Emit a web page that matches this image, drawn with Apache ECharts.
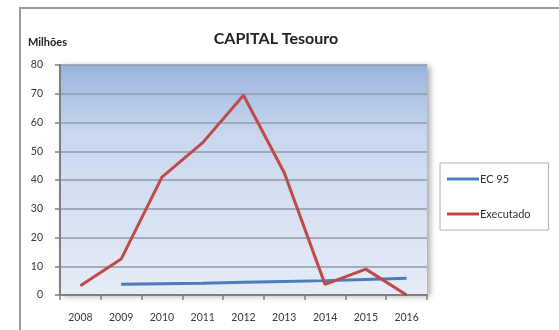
<!DOCTYPE html>
<html>
<head>
<meta charset="utf-8">
<script src="https://cdn.jsdelivr.net/npm/echarts@6/dist/echarts.min.js"></script>
<style>
  html, body { margin: 0; padding: 0; background: #fff; }
  #chart { width: 559px; height: 330px; }
</style>
</head>
<body>
<div id="chart"></div>
<script>
// dados (milhoes)
const anos = ['2008', '2009', '2010', '2011', '2012', '2013', '2014', '2015', '2016'];
const ec95 = [null, 3.7, 3.9, 4.1, 4.4, 4.7, 5.0, 5.4, 5.8];
const executado = [3.2, 12.5, 41, 53, 69.5, 42.5, 3.7, 9, 0];
const yTicks = [0, 80, 10];

const chart = echarts.init(document.getElementById('chart'));

const options = {
  animation: false,
  textStyle: { fontFamily: 'Lato' },
  title: {
    text: 'CAPITAL Tesouro',
    left: 271,
    top: 26,
    textAlign: 'center',
    textStyle: { fontSize: 16, fontWeight: 'bold', color: '#222', fontFamily: 'Lato' }
  },
  graphic: [
    {
      type: 'rect',
      shape: { x: 20, y: 8, width: 600, height: 400 },
      style: { fill: 'none', stroke: '#9a9a9a', lineWidth: 2 },
      silent: true
    },
    {
      type: 'text',
      left: 28,
      top: 37,
      style: { text: 'Milhões', font: 'bold 11px Lato', fill: '#222' }
    }
  ],
  legend: {
    orient: 'vertical',
    left: 440,
    top: 163,
    padding: [9, 18, 9, 7],
    borderColor: '#b0b0b0',
    borderWidth: 1,
    backgroundColor: '#fff',
    icon: 'rect',
    itemWidth: 32,
    itemHeight: 3,
    itemGap: 21,
    textStyle: { fontSize: 11, color: '#333', lineHeight: 14, padding: [0, 0, 0, -4] },
    data: ['EC 95', 'Executado']
  },
  grid: {
    show: true,
    left: 60,
    right: 132,
    top: 65,
    bottom: 35,
    borderWidth: 0,
    backgroundColor: new echarts.graphic.LinearGradient(0, 0, 0, 1, [
      { offset: 0, color: '#9ab4de' },
      { offset: 0.3, color: '#c9d7ee' },
      { offset: 1, color: '#e6ecf7' }
    ]),
    shadowBlur: 6,
    shadowOffsetX: 3,
    shadowOffsetY: 1,
    shadowColor: 'rgba(0,0,0,0.35)'
  },
  xAxis: {
    type: 'category',
    data: anos,
    boundaryGap: true,
    axisLine: { lineStyle: { color: '#7f7f7f', width: 2 } },
    axisTick: { show: true, length: 5, lineStyle: { color: '#7f7f7f', width: 1.5 } },
    axisLabel: { color: '#3a3a3a', fontSize: 10.5, margin: 17, fontFamily: 'Lato' },
    splitLine: { show: false }
  },
  yAxis: {
    type: 'value',
    min: yTicks[0],
    max: yTicks[1],
    interval: yTicks[2],
    axisLine: { show: true, lineStyle: { color: '#7f7f7f', width: 2 } },
    axisTick: { show: true, length: 5, lineStyle: { color: '#7f7f7f', width: 1.5 } },
    axisLabel: { color: '#3a3a3a', fontSize: 10.5, margin: 17, fontFamily: 'Lato' },
    splitLine: { show: true, lineStyle: { color: '#8e98ab', width: 1.5 } }
  },
  series: [
    {
      name: 'EC 95',
      type: 'line',
      data: ec95,
      symbol: 'none',
      color: '#4a7ebb',
      lineStyle: { width: 3, color: '#4a7ebb' }
    },
    {
      name: 'Executado',
      type: 'line',
      data: executado,
      symbol: 'none',
      color: '#be4b48',
      lineStyle: { width: 3, color: '#be4b48' }
    }
  ]
};

chart.setOption(options);
</script>
</body>
</html>
